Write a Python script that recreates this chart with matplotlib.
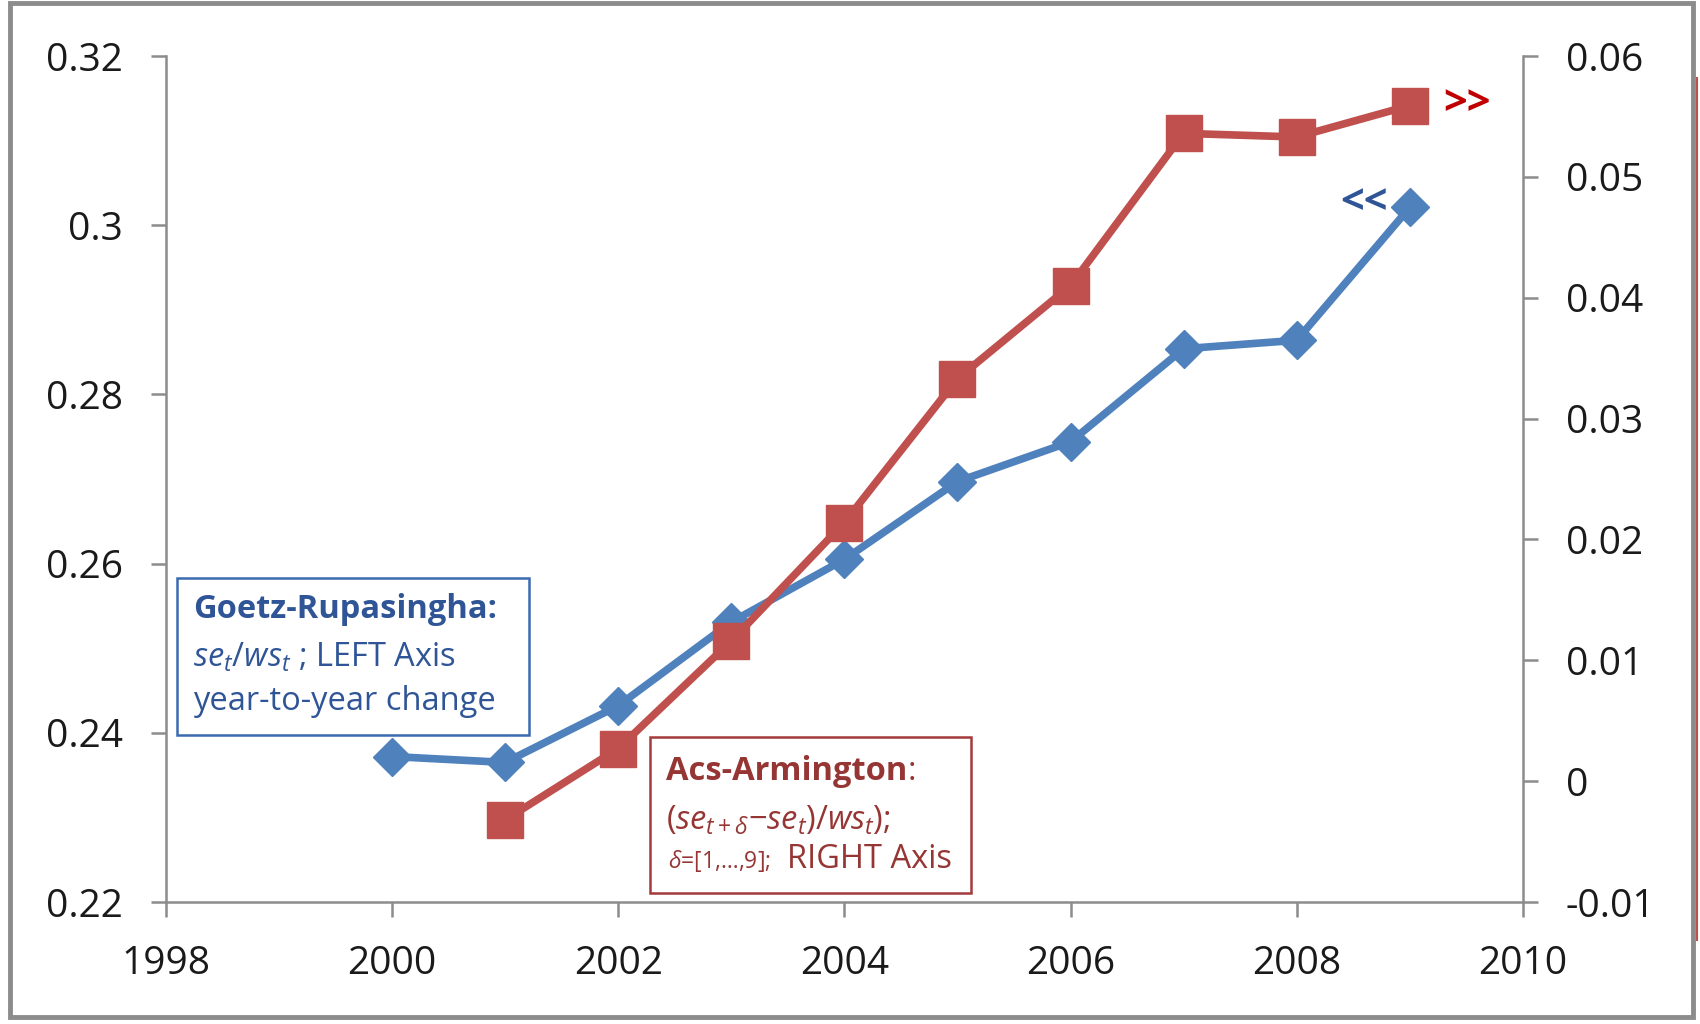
import matplotlib
matplotlib.use('Agg')
import matplotlib.pyplot as plt
from matplotlib.patches import Rectangle
from matplotlib.lines import Line2D
from matplotlib.ticker import FuncFormatter, MultipleLocator

plt.rcParams['font.family'] = ['Open Sans', 'DejaVu Sans']
plt.rcParams['mathtext.fontset'] = 'custom'
plt.rcParams['mathtext.rm'] = 'Open Sans'
plt.rcParams['mathtext.it'] = 'Open Sans:italic'
plt.rcParams['mathtext.bf'] = 'Open Sans:bold'

## -- data
years_gr = [2000, 2001, 2002, 2003, 2004, 2005, 2006, 2007, 2008, 2009]
goetz = [0.2372, 0.2365, 0.2432, 0.2531, 0.2605, 0.2697, 0.2744, 0.2854, 0.2864, 0.3021]

years_aa = [2001, 2002, 2003, 2004, 2005, 2006, 2007, 2008, 2009]
acs = [-0.0032, 0.0027, 0.0116, 0.0214, 0.0333, 0.0410, 0.0536, 0.0533, 0.0559]

blue = '#4F81BD'
red = '#C0504D'
blue_txt = '#2F5597'
red_txt = '#963634'
grey = '#8c8c8c'
fs_box = 23.5

fmt = FuncFormatter(lambda v, p: '%g' % round(v, 4))

fig = plt.figure(figsize=(17, 10.24), dpi=100)
ax = fig.add_axes([0.0976, 0.1191, 0.7982, 0.8262])
ax2 = ax.twinx()

ax.plot(years_gr, goetz, color=blue, lw=5.5, marker='D', ms=19, zorder=3)
ax2.plot(years_aa, acs, color=red, lw=5.5, marker='s', ms=26, zorder=3)

ax.set_xlim(1998, 2010)
ax.set_ylim(0.22, 0.32)
ax2.set_ylim(-0.01, 0.06)
ax.xaxis.set_major_locator(MultipleLocator(2))
ax.yaxis.set_major_locator(MultipleLocator(0.02))
ax2.yaxis.set_major_locator(MultipleLocator(0.01))
ax.yaxis.set_major_formatter(fmt)
ax2.yaxis.set_major_formatter(fmt)

for a in (ax, ax2):
	for s in a.spines.values():
		s.set_visible(False)
		s.set_color(grey)
		s.set_linewidth(1.8)
ax.spines['left'].set_visible(True)
ax.spines['bottom'].set_visible(True)
ax2.spines['right'].set_visible(True)

ax.tick_params(axis='both', direction='out', length=11, width=1.8, color=grey,
			   labelsize=28, labelcolor='#1a1a1a', pad=20)
ax2.tick_params(axis='y', direction='out', length=11, width=1.8, color=grey,
				labelsize=28, labelcolor='#1a1a1a', pad=20)

## end markers
ax.annotate('<<', xy=(years_gr[-1], goetz[-1]), xytext=(-33, 3), textcoords='offset points',
			ha='center', va='center', color=blue_txt, fontsize=30, fontweight='bold')
ax2.annotate('>>', xy=(years_aa[-1], acs[-1]), xytext=(41, 1), textcoords='offset points',
			 ha='center', va='center', color='#C00000', fontsize=30, fontweight='bold')

## boxes
fig.patches.append(Rectangle((0.104, 0.2822), 0.207, 0.1533, transform=fig.transFigure,
							 fill=False, edgecolor='#3A6BB0', lw=1.8))
fig.text(0.1135, 1 - 610/1024, 'Goetz-Rupasingha:', color=blue_txt, fontsize=fs_box,
		 fontweight='bold', va='center')
fig.text(0.1135, 1 - 658/1024, r'$se_t/ws_t$ ; LEFT Axis', color=blue_txt, fontsize=fs_box, va='center')
fig.text(0.1135, 1 - 701/1024, 'year-to-year change', color=blue_txt, fontsize=fs_box, va='center')

fig.patches.append(Rectangle((0.3824, 0.1279), 0.1888, 0.1523, transform=fig.transFigure,
							 fill=False, edgecolor='#A33B3B', lw=1.8))
t = fig.text(0.392, 1 - 772/1024, 'Acs-Armington', color=red_txt, fontsize=fs_box,
			 fontweight='bold', va='center')
ax.annotate(':', xy=(1, 0.5), xycoords=t, va='center', ha='left',
			color=red_txt, fontsize=fs_box)
fig.text(0.392, 1 - 821/1024, r'$(se_{t+\delta}{-}se_t)/ws_t);$', color=red_txt, fontsize=fs_box, va='center')
fig.text(0.393, 1 - 868/1024, r'$\delta$=[1,…,9];', color=red_txt, fontsize=16.5, va='baseline')
fig.text(0.463, 1 - 868/1024, 'RIGHT Axis', color=red_txt, fontsize=fs_box, va='baseline')

## frame round the whole chart and the red edge on the right
fig.patches.append(Rectangle((10/1700, 1 - 1017/1024), 1683/1700, 1014/1024,
							 transform=fig.transFigure, fill=False, edgecolor=grey, lw=3.5))
fig.lines.append(Line2D([1697/1700, 1697/1700], [1 - 78/1024, 1 - 940/1024],
						transform=fig.transFigure, color=red, lw=1.5))

plt.savefig('out.png', dpi=100)
